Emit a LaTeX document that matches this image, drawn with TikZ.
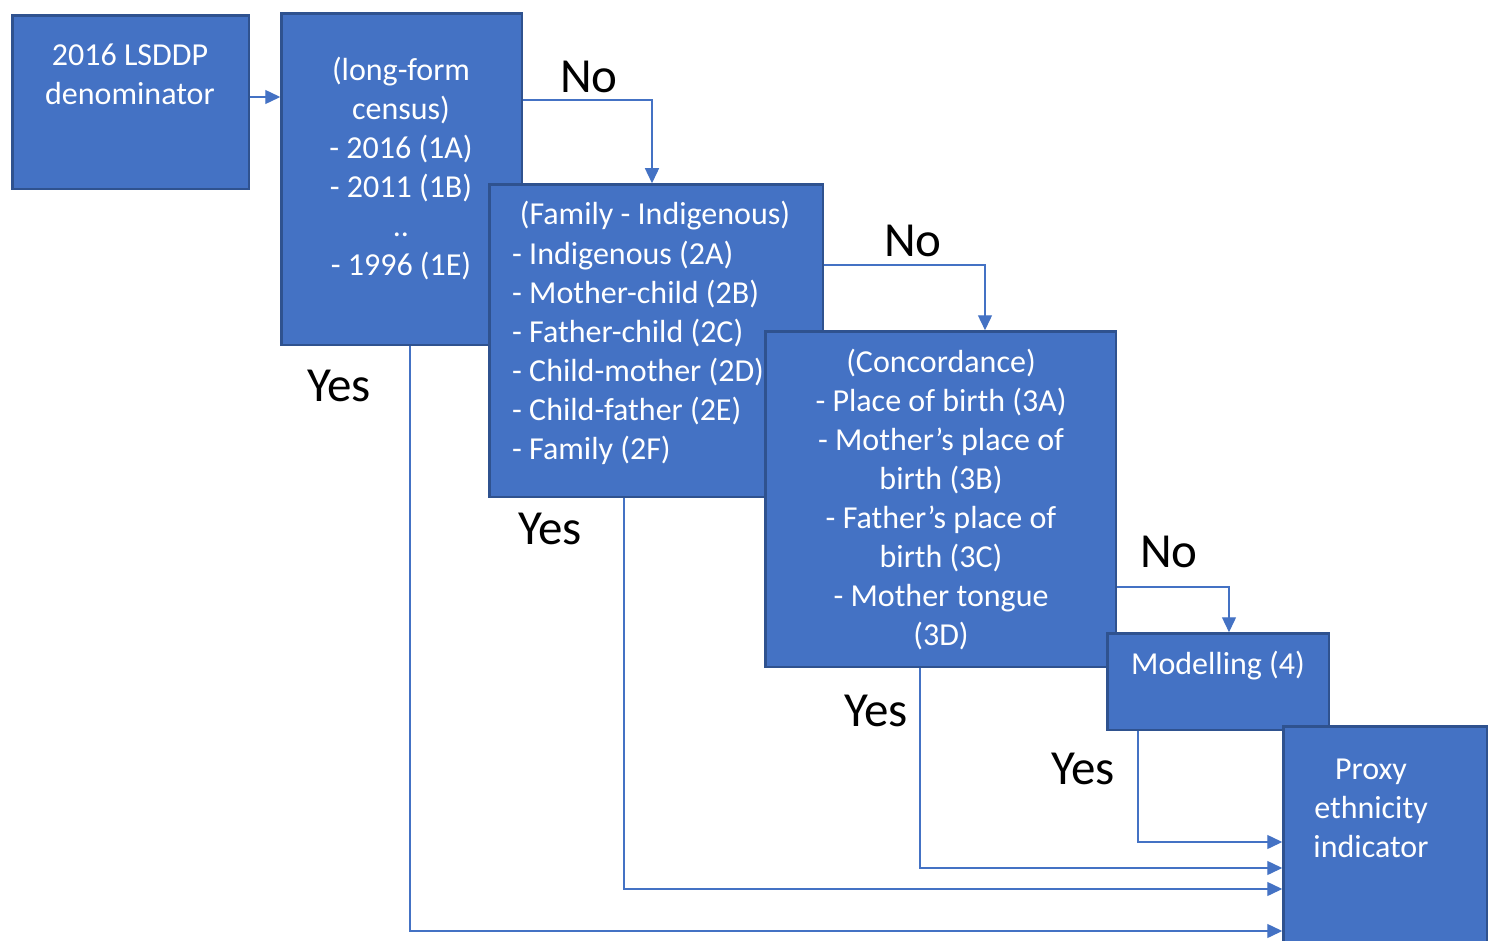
\documentclass[tikz,border=0pt]{standalone}
\usepackage{fontspec}
\setmainfont{Carlito}
\usetikzlibrary{arrows.meta}
\definecolor{boxfill}{HTML}{4472C4}
\definecolor{boxline}{HTML}{2F528F}
\definecolor{conncol}{HTML}{4472C4}
\tikzset{
  box/.style={draw=boxline, fill=boxfill, line width=2.5pt, inner sep=0pt, anchor=north west},
  boxtext/.style={text=white, inner sep=0pt, font=\fontsize{32}{39}\selectfont, align=center},
  lbl/.style={text=black, inner sep=0pt, font=\fontsize{49}{55}\selectfont},
  conn/.style={draw=conncol, line width=1.4pt, -{Triangle[length=15pt,width=14pt]}}
}
\begin{document}
\begin{tikzpicture}[x=1pt,y=-1pt]
\useasboundingbox (0,0) rectangle (1493,941);
% boxes and texts
\node[box, minimum width=236.5pt, minimum height=173.5pt] (b1) at (11.25,14.25) {};
\node[boxtext] (t1) at (130,74) {2016 LSDDP\\denominator};
\node[box, minimum width=240.5pt, minimum height=331.5pt] (b2) at (280.25,12.25) {};
\node[boxtext] (t2) at (401,169) {(long-form\\census)\\- 2016 (1A)\\- 2011 (1B)\\..\\- 1996 (1E)};
\node[box, minimum width=333.5pt, minimum height=312.5pt] (b3) at (488.25,183.25) {};
\node[boxtext] (t3h) at (655,216) {(Family - Indigenous)};
\node[boxtext, align=left, anchor=west] (t3) at (512,353) {- Indigenous (2A)\\- Mother-child (2B)\\- Father-child (2C)\\- Child-mother (2D)\\- Child-father (2E)\\- Family (2F)};
\node[box, minimum width=350.5pt, minimum height=335.5pt] (b4) at (764.25,330.25) {};
\node[boxtext] (t4) at (941,500) {(Concordance)\\- Place of birth (3A)\\- Mother’s place of\\birth (3B)\\- Father’s place of\\birth (3C)\\- Mother tongue\\(3D)};
\node[box, minimum width=221.5pt, minimum height=96.5pt] (b5) at (1106.25,632.25) {};
\node[boxtext] (t5) at (1218,666) {Modelling (4)};
\node[box, minimum width=203.5pt, minimum height=240pt] (b6) at (1282.25,725.25) {};
\node[boxtext] (t6) at (1371,808) {Proxy\\ethnicity\\indicator};
% connector bend points
\coordinate (a1) at (0,97);
\coordinate (n1) at (652,100);
\coordinate (n2) at (985,265);
\coordinate (n3) at (1229,587);
\coordinate (y1) at (410,931);
\coordinate (y2) at (624,889);
\coordinate (y3) at (920,868);
\coordinate (y4) at (1138,842);
% connectors
\draw[conn] (b1.east |- a1) -- (b2.west |- a1);
\draw[conn] (b2.east |- n1) -| (n1 |- b3.north);
\draw[conn] (b3.east |- n2) -| (n2 |- b4.north);
\draw[conn] (b4.east |- n3) -| (n3 |- b5.north);
\draw[conn] (b2.south -| y1) |- (b6.west |- y1);
\draw[conn] (b3.south -| y2) |- (b6.west |- y2);
\draw[conn] (b4.south -| y3) |- (b6.west |- y3);
\draw[conn] (b5.south -| y4) |- (b6.west |- y4);
% labels
\node[lbl] (no1) at (589,77) {No};
\node[lbl] (no2) at (913,241) {No};
\node[lbl] (no3) at (1169,552) {No};
\node[lbl] (yes1) at (339,386) {Yes};
\node[lbl] (yes2) at (550,529) {Yes};
\node[lbl] (yes3) at (876,711) {Yes};
\node[lbl] (yes4) at (1083,769) {Yes};
\end{tikzpicture}
\end{document}
